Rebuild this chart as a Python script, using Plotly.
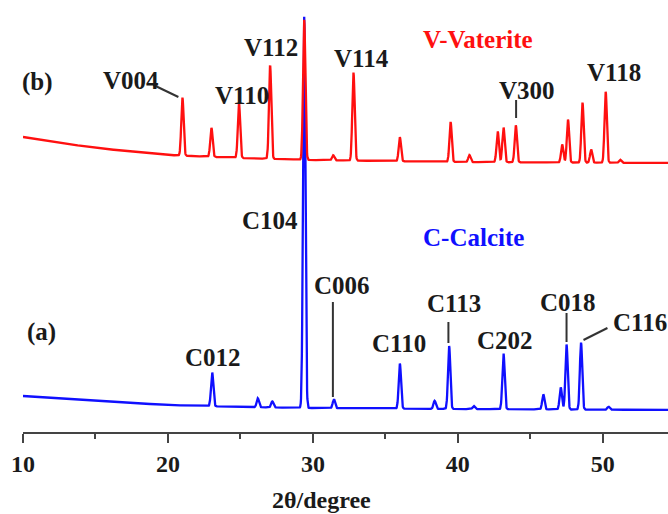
import numpy as np
import plotly.graph_objects as go

# ---- data (2theta in degrees, intensity in a.u.) ----
# Calcite pattern (a)
calcite_pos = [23.05, 26.2, 27.2, 29.4, 31.45, 36.0, 38.4, 39.4, 41.1, 43.15, 45.9, 47.1, 47.5, 48.5, 50.4]
calcite_hgt = [34, 9, 6, 391, 9, 45, 8, 63, 3, 56, 15, 22, 65, 67, 3]
calcite_bg_x = [10, 15, 20, 25, 30, 40, 55]
calcite_bg_y = [36, 31, 27, 25, 24, 23, 22]

# Vaterite pattern (b), plotted with an offset
vaterite_pos = [21.0, 23.0, 24.9, 27.05, 29.4, 31.4, 32.8, 36.0, 39.5, 40.8, 42.75, 43.15, 44.0, 47.2, 47.6, 48.6, 49.2, 50.2, 51.2]
vaterite_hgt = [58, 29, 55, 93, 140, 5, 88, 24, 40, 7, 31, 35, 37, 18, 43, 60, 13, 71, 3]
vaterite_bg_x = [10, 15, 20, 25, 30, 40, 55]
vaterite_bg_y = [45, 34, 27, 24, 22, 20, 19]
vaterite_offset = 250

peak_sigma = 0.08

two_theta = np.arange(10.0, 55.0, 0.02)


def profile(pos, hgt, bgx, bgy):
    y = np.interp(two_theta, bgx, bgy).astype(float)
    for p, h in zip(pos, hgt):
        y += h * np.exp(-0.5 * ((two_theta - p) / peak_sigma) ** 2)
    return y


calcite_y = profile(calcite_pos, calcite_hgt, calcite_bg_x, calcite_bg_y)
vaterite_y = profile(vaterite_pos, vaterite_hgt, vaterite_bg_x, vaterite_bg_y) + vaterite_offset

fig = go.Figure()
fig.add_trace(go.Scatter(x=two_theta, y=calcite_y, mode="lines",
                         line=dict(color="#1010ff", width=2.3), showlegend=False))
fig.add_trace(go.Scatter(x=two_theta, y=vaterite_y, mode="lines",
                         line=dict(color="#ff1010", width=2.3), showlegend=False))

FONT = "Liberation Serif"
TXT = "#1a1a1a"

# label texts and positions
labels = [
    ("(b)", 11.0, 350, TXT, "center"),
    ("V004", 17.47, 352, TXT, "center"),
    ("V110", 25.14, 337, TXT, "center"),
    ("V112", 27.14, 385, TXT, "center"),
    ("V114", 33.35, 374, TXT, "center"),
    ("V-Vaterite", 41.42, 393, "#ff1010", "center"),
    ("V300", 44.8, 342, TXT, "center"),
    ("V118", 50.74, 360, TXT, "center"),
    ("C104", 27.07, 212, TXT, "center"),
    ("C006", 32.03, 147, TXT, "center"),
    ("(a)", 11.26, 100, TXT, "center"),
    ("C012", 23.13, 75, TXT, "center"),
    ("C110", 35.97, 89, TXT, "center"),
    ("C113", 39.76, 129, TXT, "center"),
    ("C202", 43.28, 92, TXT, "center"),
    ("C018", 47.63, 130, TXT, "center"),
    ("C116", 50.6, 110, TXT, "left"),
    ("C-Calcite", 41.07, 195, "#1010ff", "center"),
]
for text, x, y, col, anc in labels:
    fig.add_annotation(x=x, y=y, xref="x", yref="y", text=f"<b>{text}</b>",
                       showarrow=False, xanchor=anc, yanchor="middle",
                       font=dict(family=FONT, size=25, color=col))

# leader lines
leaders = [
    (19.0, 347, 20.72, 335),
    (44.02, 332, 44.02, 314),
    (31.38, 130, 31.38, 35),
    (39.35, 110, 39.35, 89),
    (47.5, 119, 47.5, 90),
    (48.67, 92, 50.32, 104),
]
for x0, y0, x1, y1 in leaders:
    fig.add_shape(type="line", x0=x0, y0=y0, x1=x1, y1=y1, xref="x", yref="y",
                  line=dict(color="#333333", width=2))

fig.add_annotation(x=30.6, y=-0.162, xref="x", yref="paper", text="<b>2θ/degree</b>",
                   showarrow=False, xanchor="center", yanchor="middle",
                   font=dict(family=FONT, size=24, color=TXT))

fig.update_layout(
    width=668, height=514,
    margin=dict(l=23, r=0, t=15, b=82),
    paper_bgcolor="white", plot_bgcolor="white",
    xaxis=dict(range=[10, 54.5], tick0=10, dtick=10, showgrid=False, zeroline=False,
               showline=True, linecolor="#444444", linewidth=2,
               ticks="outside", ticklen=9, tickwidth=2, tickcolor="#444444",
               minor=dict(dtick=5, tick0=10, ticks="outside", ticklen=5, tickwidth=2, tickcolor="#444444"),
               tickfont=dict(family=FONT, size=24, color=TXT, weight="bold")),
    yaxis=dict(range=[0, 417], visible=False),
)

fig.write_html("out.html", config={"displayModeBar": False},
               post_script="document.body.style.margin='0';document.body.style.overflow='hidden';")
